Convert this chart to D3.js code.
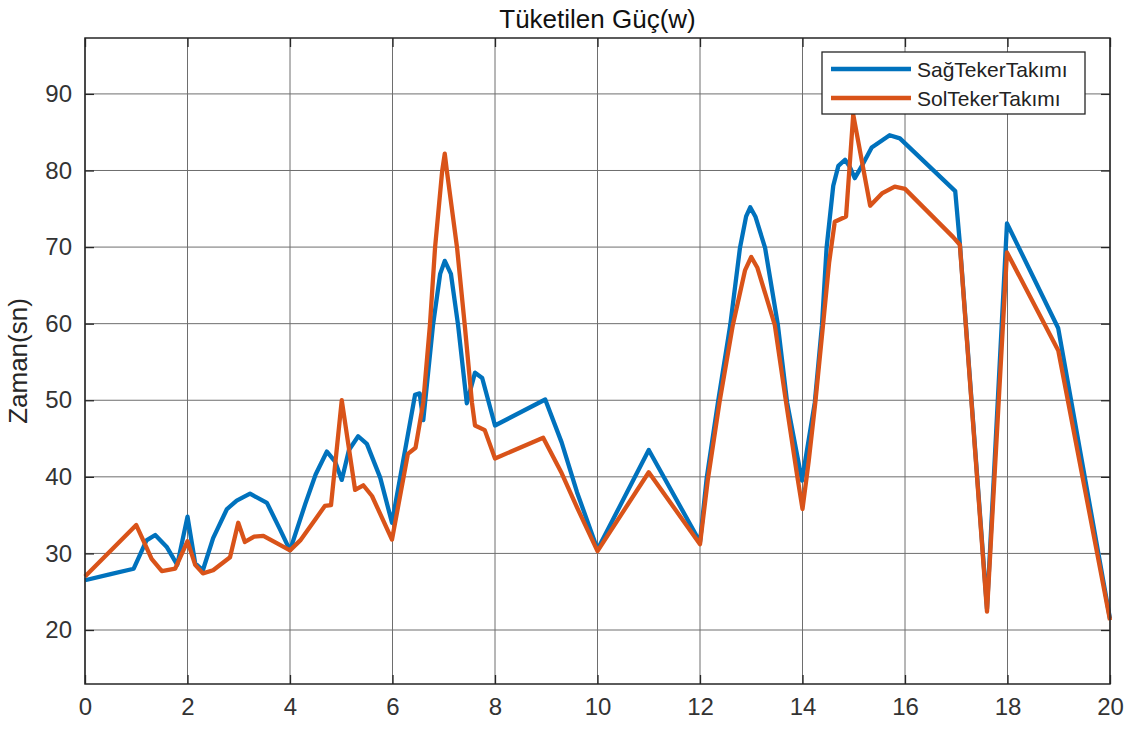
<!DOCTYPE html>
<html>
<head>
<meta charset="utf-8">
<script src="https://cdn.jsdelivr.net/npm/d3@7"></script>
<style>
  body { margin: 0; background: #fff; }
  #chart { width: 1132px; height: 735px; }
  text { font-family: "Liberation Sans", Arial, Helvetica, sans-serif; }
</style>
</head>
<body>
<div id="chart"></div>
<script>
// data
var seriesNames = ["SağTekerTakımı", "SolTekerTakımı"];

var sagX = [0, 0.5, 0.95, 1.2, 1.37, 1.6, 1.8, 2.0, 2.15, 2.3, 2.5, 2.77, 2.96, 3.22, 3.55, 3.8, 4.0,
  4.3, 4.5, 4.72, 4.88, 5.01, 5.15, 5.33, 5.5, 5.76, 5.99, 6.44, 6.53, 6.6, 6.79, 6.93, 7.02, 7.14,
  7.28, 7.45, 7.61, 7.75, 8.0, 8.98, 9.3, 9.6, 10.0, 11.0, 12.0, 12.13, 12.35, 12.59, 12.78, 12.9,
  12.98, 13.08, 13.27, 13.52, 13.7, 13.99, 14.24, 14.38, 14.47, 14.6, 14.7, 14.83, 14.92, 15.02,
  15.15, 15.35, 15.7, 15.9, 16.98, 17.07, 17.6, 17.99, 18.99, 20.0];
var sagY = [26.5, 27.3, 28.0, 31.7, 32.4, 30.8, 28.5, 34.8, 28.7, 27.8, 32.0, 35.8, 36.9, 37.8, 36.6, 33.2, 30.4,
  36.5, 40.3, 43.3, 42.0, 39.6, 43.5, 45.3, 44.3, 39.9, 34.0, 50.7, 50.9, 47.4, 59.8, 66.5, 68.2, 66.5,
  59.8, 49.6, 53.6, 52.9, 46.7, 50.1, 44.5, 38.0, 30.5, 43.5, 31.5, 39.8, 49.7, 59.8, 69.9, 74.0,
  75.2, 74.0, 69.9, 59.8, 49.7, 39.5, 49.7, 59.8, 69.9, 78.0, 80.6, 81.4, 80.5, 79.0,
  80.5, 83.0, 84.6, 84.2, 77.3, 70.5, 22.8, 73.1, 59.4, 21.5];

var solX = [0, 1.0, 1.15, 1.3, 1.5, 1.76, 2.0, 2.15, 2.3, 2.5, 2.83, 2.99, 3.12, 3.3, 3.48, 3.75, 4.0,
  4.2, 4.5, 4.68, 4.8, 5.01, 5.27, 5.43, 5.6, 5.99, 6.3, 6.45, 6.6, 6.73, 6.83, 6.97, 7.02, 7.06,
  7.26, 7.41, 7.55, 7.61, 7.8, 8.0, 8.94, 9.3, 9.6, 10.0, 11.0, 12.0, 12.15, 12.38, 12.64, 12.88,
  13.0, 13.12, 13.46, 13.68, 13.9, 14.0, 14.12, 14.25, 14.4, 14.52, 14.63, 14.85, 14.99, 15.32,
  15.55, 15.8, 16.0, 16.94, 17.07, 17.6, 17.99, 18.99, 20.0];
var solY = [27.0, 33.7, 31.5, 29.3, 27.7, 28.0, 31.6, 28.5, 27.4, 27.8, 29.5, 34.0, 31.5, 32.2, 32.3, 31.3, 30.4,
  31.7, 34.5, 36.2, 36.3, 50.0, 38.3, 38.9, 37.5, 31.8, 43.0, 43.8, 49.7, 59.8, 69.9, 80.0, 82.2, 80.0,
  69.9, 59.8, 49.7, 46.7, 46.1, 42.4, 45.1, 40.5, 36.0, 30.3, 40.6, 31.2, 39.5, 49.7, 59.8, 67.0,
  68.7, 67.3, 59.8, 49.7, 40.0, 35.8, 42.0, 49.7, 59.8, 68.0, 73.3, 74.0, 87.3, 75.4,
  77.0, 77.9, 77.6, 71.3, 70.3, 22.4, 69.3, 56.5, 21.3];

var xTicks = [0, 2, 4, 6, 8, 10, 12, 14, 16, 18, 20];
var yTicks = [20, 30, 40, 50, 60, 70, 80, 90];

var colors = ["#0072BD", "#D95319"];

var width = 1132;
var height = 735;
var margin = { top: 38, right: 22, bottom: 51, left: 85 };

var svg = d3.select("#chart")
  .append("svg")
  .attr("width", width)
  .attr("height", height);

svg.append("rect")
  .attr("width", width)
  .attr("height", height)
  .attr("fill", "#fff");

var x = d3.scaleLinear()
  .domain([0, 20])
  .range([margin.left, width - margin.right]);

var y = d3.scaleLinear()
  .domain([12.95, 97.3])
  .range([height - margin.bottom, margin.top]);

//------- GRID -------
var grid = svg.append("g").attr("class", "grid");

grid.selectAll("line.vx")
  .data(xTicks)
  .enter()
  .append("line")
  .attr("class", "vx")
  .attr("x1", function (d) { return x(d); })
  .attr("x2", function (d) { return x(d); })
  .attr("y1", y.range()[0])
  .attr("y2", y.range()[1])
  .attr("stroke", "#6e6e6e")
  .attr("stroke-width", 1);

grid.selectAll("line.hy")
  .data(yTicks)
  .enter()
  .append("line")
  .attr("class", "hy")
  .attr("y1", function (d) { return y(d); })
  .attr("y2", function (d) { return y(d); })
  .attr("x1", x.range()[0])
  .attr("x2", x.range()[1])
  .attr("stroke", "#6e6e6e")
  .attr("stroke-width", 1);

//------- LINES -------
var line = d3.line()
  .x(function (d) { return x(d[0]); })
  .y(function (d) { return y(d[1]); });

var series = [d3.zip(sagX, sagY), d3.zip(solX, solY)];

svg.append("g")
  .attr("class", "lines")
  .selectAll("path")
  .data(series)
  .enter()
  .append("path")
  .attr("d", line)
  .attr("fill", "none")
  .attr("stroke", function (d, i) { return colors[i]; })
  .attr("stroke-width", 4.3)
  .attr("stroke-linejoin", "round");

//------- AXES (ticks inside, box on) -------
var tickSize = 9;

var xAxis = svg.append("g")
  .attr("transform", "translate(0," + y.range()[0] + ")")
  .call(d3.axisBottom(x).tickValues(xTicks).tickSizeInner(-tickSize).tickSizeOuter(0).tickPadding(14));

var xTop = svg.append("g")
  .attr("transform", "translate(0," + y.range()[1] + ")")
  .call(d3.axisTop(x).tickValues(xTicks).tickSizeInner(-tickSize).tickSizeOuter(0).tickFormat(""));

var yAxis = svg.append("g")
  .attr("transform", "translate(" + x.range()[0] + ",0)")
  .call(d3.axisLeft(y).tickValues(yTicks).tickSizeInner(-tickSize).tickSizeOuter(0).tickPadding(13));

var yRight = svg.append("g")
  .attr("transform", "translate(" + x.range()[1] + ",0)")
  .call(d3.axisRight(y).tickValues(yTicks).tickSizeInner(-tickSize).tickSizeOuter(0).tickFormat(""));

[xAxis, xTop, yAxis, yRight].forEach(function (g) {
  g.select(".domain").remove();
  g.selectAll(".tick line").attr("stroke", "#262626").attr("stroke-width", 1.3);
  g.selectAll(".tick text")
    .attr("fill", "#333")
    .style("font-size", "24px")
    .style("font-family", "'Liberation Sans', Arial, sans-serif");
});

xAxis.selectAll(".tick text").attr("dy", "0.71em");

svg.append("rect")
  .attr("x", x.range()[0])
  .attr("y", y.range()[1])
  .attr("width", x.range()[1] - x.range()[0])
  .attr("height", y.range()[0] - y.range()[1])
  .attr("fill", "none")
  .attr("stroke", "#262626")
  .attr("stroke-width", 1.5);

//------- TITLE & LABEL -------
svg.append("text")
  .attr("x", (x.range()[0] + x.range()[1]) / 2)
  .attr("y", 28)
  .attr("text-anchor", "middle")
  .style("font-size", "26px")
  .attr("fill", "#111")
  .text("Tüketilen Güç(w)");

svg.append("text")
  .attr("transform", "translate(27," + (y.range()[0] + y.range()[1]) / 2 + ") rotate(-90)")
  .attr("text-anchor", "middle")
  .style("font-size", "26px")
  .attr("fill", "#262626")
  .text("Zaman(sn)");

//------- LEGEND -------
var legend = svg.append("g")
  .attr("transform", "translate(822,52)");

legend.append("rect")
  .attr("width", 263)
  .attr("height", 62)
  .attr("fill", "#fff")
  .attr("stroke", "#262626")
  .attr("stroke-width", 1.3);

var item = legend.selectAll("g.item")
  .data(seriesNames)
  .enter()
  .append("g")
  .attr("class", "item")
  .attr("transform", function (d, i) { return "translate(0," + (17 + i * 29) + ")"; });

item.append("line")
  .attr("x1", 9)
  .attr("x2", 89)
  .attr("stroke", function (d, i) { return colors[i]; })
  .attr("stroke-width", 4.3);

item.append("text")
  .attr("x", 95)
  .attr("dy", "0.36em")
  .style("font-size", "21px")
  .attr("fill", "#222")
  .text(function (d) { return d; });
</script>
</body>
</html>
